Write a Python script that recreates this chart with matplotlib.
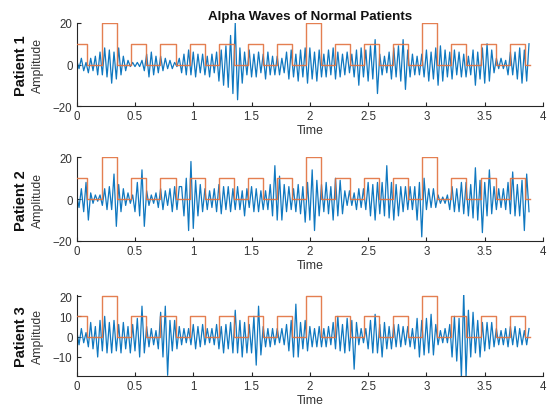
import numpy as np
import matplotlib
matplotlib.use("Agg")
import matplotlib.pyplot as plt

plt.rcParams['font.family'] = ['Liberation Sans', 'DejaVu Sans']

title = "Alpha Waves of Normal Patients"
patients = ["Patient 1", "Patient 2", "Patient 3"]
dt = 0.02  # sample spacing (s)

# Reference square wave (same in every panel): step start times and levels
sq_t = [0, 0.092, 0.218, 0.345, 0.466, 0.598, 0.718, 0.848, 0.970, 1.098,
        1.220, 1.350, 1.470, 1.600, 1.720, 1.848, 1.966, 2.094, 2.214, 2.343,
        2.466, 2.594, 2.714, 2.843, 2.966, 3.091, 3.214, 3.343, 3.466, 3.594,
        3.714, 3.843, 3.89]
sq_v = [10, 0, 20, 0, 10, 0, 10, 0, 10, 0, 10, 0, 10, 0, 10, 0, 20, 0, 10, 0,
        10, 0, 10, 0, 20, 0, 10, 0, 10, 0, 10, 0, 0]

p1 = [2, -2, 3, -3, 1,  -4, 3, -3, 4, -5,  6, -5, 8, -6, 7,  -9, 6, -7, 8, -5,
      4, -3, 2, -1, 1,  -1, 1, -1, 2, -3,  5, -6, 6, -5, 4,  -4, 4, -3, 3, -2,
      2, -2, 1, -1, 3,  -4, 5, -5, 7, -5,  6, -6, 5, -4, 5,  -5, 4, -6, 5, -4,
      6, -8, 7, -10, 9,  -11, 14, -14, 20, -17,  8, -9, 6, -5, 7,  -6, 5, -6, 6, -4,
      5, -7, 6, -5, 4,  -5, 4, -5, 3, -4,  6, -7, 7, -6, 5,  -8, 7, -6, 8, -9,
      8, -7, 6, -8, 7,  -6, 5, -6, 7, -5,  8, -7, 6, -6, 5,  -5, 6, -4, 5, -6,
      7, -10, 8, -6, 7,  -8, 9, -7, 12, -14,  5, -5, 4, -4, 6,  -7, 8, -6, 9, -8,
      12, -12, 7, -6, 5,  -5, 4, -5, 5, -6,  7, -8, 6, -7, 8,  -10, 9, -8, 7, -6,
      6, -7, 7, -5, 6,  -6, 5, -6, 4, -5,  7, -10, 6, -7, 8,  -9, 10, -8, 7, -4,
      3, -2, 3, -2, 2,  -5, 6, -5, 6, -7,  8, -9, 7, -8, 10]

p2 = [2, -4, 5, -6, 8,  -10, 3, -2, 2, -1,  2, -3, 5, -5, 6,  -5, 12, -13, 7, -6,
      5, -3, 3, -2, 2,  -6, 8, -8, 14, -13,  4, -3, 2, -2, 3,  -4, 5, -5, 4, -3,
      5, -6, 6, -5, 6,  6, -8, 10, -15, 18,  -14, 9, -8, 7, -6,  5, -5, 4, -4, 5,
      -6, 7, -7, 6, -5,  6, -6, 5, -5, 6,  -5, 4, -8, 5, -4,  6, -6, 5, -6, 4,
      -5, 4, -5, 7, -8,  16, -10, 11, -10, 7,  -6, 6, -5, 5, -6,  7, -7, 6, -11, 8,
      -10, 14, -15, 9, -8,  7, -6, 8, -7, 6,  -10, 10, -8, 9, -7,  4, -3, 4, -3, 3,
      -5, 5, -4, 5, -5,  8, -8, 7, -10, 8,  -7, 8, -8, 16, -9,  8, -10, 7, -8, 6,
      -6, 6, -5, 6, -5,  6, -10, 8, -18, 10,  -5, 5, -4, 5, -4,  2, -2, 1, -2, 2,
      -5, 6, -6, 5, -6,  8, -7, 8, -8, 7,  -9, 15, -10, 9, -16,  8, -8, 14, -7, 6,
      -5, 5, -4, 5, -5,  8, -7, 13, -8, 7,  -8, 9, -15, 12, -6]

p3 = [3, -4, 4, -3, 2,  -5, 7, -6, 5, -10,  8, -7, 10, -8, 7,  -8, 8, -7, 6, -8,
      7, -6, 5, -8, 6,  -7, 9, -10, 15, -8,  5, -5, 4, -4, 3,  -6, 12, -10, 15, -19,
      8, -7, 8, -6, 5,  -4, 4, -3, 4, -4,  6, -6, 5, -5, 6,  -4, 4, -3, 4, -4,
      6, -6, 5, -8, 6,  -6, 7, -8, 13, -8,  8, -10, 7, -8, 6,  -8, 10, -14, 15, -9,
      5, -5, 4, -5, 4,  -4, 4, -3, 4, -4,  6, -7, 8, -10, 16,  -10, 7, -6, 8, -7,
      5, -5, 4, -5, 5,  -5, 4, -5, 5, -4,  7, -6, 10, -7, 6,  -8, 9, -7, 8, -16,
      7, -4, 4, -3, 4,  -6, 8, -8, 11, -8,  6, -10, 7, -6, 5,  -6, 6, -5, 6, -5,
      5, -4, 5, -5, 4,  -6, 9, -10, 8, -9,  9, -8, 11, -9, 6,  -4, 3, -3, 4, -3,
      6, -10, 10, -12, 9,  -20, 22, -20, 13, -10,  12, -8, 8, -10, 7,  -7, 7, -6, 7, -5,
      4, -4, 3, -4, 4,  -5, 5, -4, 5, -5,  4, -4, 3, -4, 4]

signals = [p1, p2, p3]
ylims = [(-20, 20), (-20, 20), (-19.5, 20.5)]
yticks = [[-20, 0, 20], [-20, 0, 20], [-10, 0, 10, 20]]

W, H = 548, 414
fig = plt.figure(figsize=(W / 100, H / 100), dpi=100)
# axes boxes in pixels: (left, top, right, bottom)
boxes = [(76.7, 24, 543, 107), (76.7, 158.3, 543, 242), (76.7, 296, 543, 377.3)]
blue = '#1078C0'
orange = '#E2713E'
axc = '#262626'

for i, (sig, box) in enumerate(zip(signals, boxes)):
    l, t, r, b = box
    ax = fig.add_axes([l / W, 1 - b / H, (r - l) / W, (b - t) / H])
    tt = np.arange(len(sig)) * dt
    ax.plot(tt, sig, color=blue, lw=0.9, zorder=2)
    ax.plot(sq_t, sq_v, drawstyle='steps-post', color=orange, lw=1.0,
            alpha=0.9, zorder=3)
    ax.set_xlim(0, 4)
    ax.set_ylim(*ylims[i])
    ax.set_yticks(yticks[i])
    ax.set_xticks([0, 0.5, 1, 1.5, 2, 2.5, 3, 3.5, 4])
    ax.set_xticklabels(['0', '0.5', '1', '1.5', '2', '2.5', '3', '3.5', '4'])
    for s in ['top', 'right']:
        ax.spines[s].set_visible(False)
    for s in ['left', 'bottom']:
        ax.spines[s].set_color(axc)
        ax.spines[s].set_linewidth(0.8)
    ax.tick_params(direction='in', length=3, width=0.8, colors=axc,
                   labelsize=8.3, labelcolor='#333333', pad=3)
    ax.set_xlabel('Time', fontsize=8.8, color='#333333', labelpad=1)
    ax.set_ylabel('Amplitude', fontsize=8.8, color='#333333', labelpad=2)
    ax.yaxis.set_label_coords((44 - l) / (r - l), 0.5)
    fig.text(21 / W, 1 - ((t + b) / 2) / H, patients[i], rotation=90,
             ha='center', va='center', fontsize=10.5, fontweight='bold',
             color='#111111')
    if i == 0:
        ax.set_title(title, fontsize=9.6, fontweight='bold', pad=3, color='#111111')

fig.savefig('out.png', dpi=100)
